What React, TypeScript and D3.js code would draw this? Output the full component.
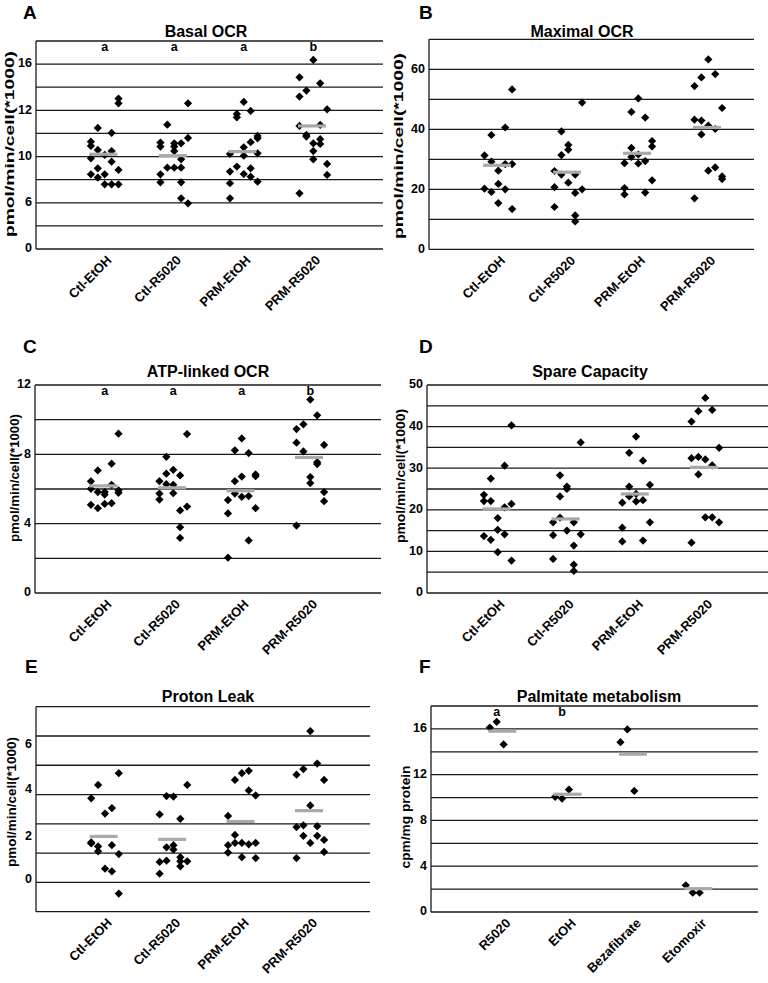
import React from "react";
import * as d3 from "d3";

// groups on the x axis
const ocrGroups = ["Ctl-EtOH", "Ctl-R5020", "PRM-EtOH", "PRM-R5020"];
const palmGroups = ["R5020", "EtOH", "Bezafibrate", "Etomoxir"];

// every point is [value, column] ; column = jitter slot inside the group
const basalPts = [
  [[9.29, -2], [8.92, -2], [7.85, -2], [6.46, -2], [10.48, -1], [8.57, -1], [6.98, -1], [6.18, -1], [8.14, 0], [6.46, 0], [5.6, 0], [10.04, 1], [8.48, 1], [7.56, 1], [5.6, 1], [13.02, 2], [12.61, 2], [6.84, 2], [5.6, 2]],
  [[9.21, -2], [8.86, -2], [6.46, -2], [5.77, -2], [10.76, -1], [7.04, -1], [9.15, 0], [8.86, 0], [8.48, 0], [7.04, 0], [9.15, 1], [7.76, 1], [7.04, 1], [5.77, 1], [4.39, 1], [12.61, 2], [9.61, 2], [3.95, 2]],
  [[8.23, -2], [6.7, -2], [5.69, -2], [4.39, -2], [11.69, -1], [11.4, -1], [7.13, -1], [12.73, 0], [8.8, 0], [8.08, 0], [6.49, 0], [11.95, 1], [9.24, 1], [6.98, 1], [6.26, 1], [9.78, 2], [9.58, 2], [8.28, 2], [5.83, 2]],
  [[14.86, -2], [13.19, -2], [10.65, -2], [4.82, -2], [13.71, -1], [9.87, -1], [9.73, -1], [16.36, 0], [9.15, 0], [8.48, 0], [7.76, 0], [14.34, 1], [10.74, 1], [9.5, 1], [9.09, 1], [12.09, 2], [7.36, 2], [6.41, 2]],
];
const basalMeans = [8.2, 8.08, 8.43, 10.65];
const basalTicks = [0, 4, 8, 12, 16];
const basalTickLabels = ["0", "6", "10", "12", "16"];
const basalSig = ["a", "a", "a", "b"];

const maxPts = [
  [[31.3, -2], [20.2, -2], [38.1, -1], [29.2, -1], [19.1, -1], [26.2, 0], [21.8, 0], [15.4, 0], [40.6, 1], [28.4, 1], [20, 1], [53.3, 2], [28.4, 2], [13.4, 2]],
  [[26.1, -2], [20.7, -2], [14.1, -2], [39.3, -1], [31.4, -1], [24.9, -1], [34.8, 0], [33.2, 0], [22.2, 0], [24.9, 1], [18.8, 1], [11.3, 1], [9.3, 1], [48.9, 2], [20, 2]],
  [[28.7, -2], [20.4, -2], [18.3, -2], [45.8, -1], [33.8, -1], [30.8, -1], [50.3, 0], [31.6, 0], [28.6, 0], [43.9, 1], [29.4, 1], [18.9, 1], [36.1, 2], [34.3, 2], [23, 2]],
  [[54.4, -2], [43.2, -2], [17, -2], [57.3, -1], [42.9, -1], [38.3, -1], [63.3, 0], [41.2, 0], [26.2, 0], [58.4, 1], [40.1, 1], [27.3, 1], [47.1, 2], [24.3, 2], [23.4, 2]],
];
const maxMeans = [28.0, 25.7, 32.0, 40.6];
const maxTicks = [0, 20, 40, 60];
const maxTickLabels = ["0", "20", "40", "60"];

const atpPts = [
  [[6.44, -2], [6.01, -2], [5.09, -2], [7.07, -1], [5.82, -1], [4.89, -1], [5.82, 0], [5.68, 0], [5.14, 0], [7.46, 1], [6.24, 1], [5.18, 1], [9.19, 2], [5.92, 2], [5.78, 2]],
  [[6.45, -2], [5.74, -2], [5.39, -2], [7.86, -1], [6.88, -1], [6.28, -1], [7.11, 0], [6.24, 0], [5.76, 0], [6.78, 1], [4.76, 1], [3.8, 1], [3.18, 1], [9.17, 2], [4.99, 2]],
  [[5.36, -2], [4.59, -2], [2.04, -2], [8.23, -1], [6.45, -1], [5.74, -1], [8.92, 0], [6.72, 0], [5.55, 0], [8.07, 1], [5.59, 1], [3.03, 1], [6.84, 2], [6.74, 2], [4.89, 2]],
  [[9.46, -2], [8.67, -2], [3.89, -2], [9.73, -1], [8.17, -1], [11.16, 0], [6.69, 0], [6.34, 0], [10.25, 1], [7.55, 1], [7.44, 1], [8.54, 2], [5.82, 2], [5.3, 2]],
];
const atpMeans = [6.18, 6.07, 5.9, 7.82];
const atpTicks = [0, 4, 8, 12];
const atpTickLabels = ["0", "4", "8", "12"];
const atpSig = ["a", "a", "a", "b"];

const sparePts = [
  [[23.6, -2], [22.1, -2], [13.7, -2], [27.5, -1], [22.1, -1], [12.8, -1], [18, 0], [15.2, 0], [9.8, 0], [30.6, 1], [20.6, 1], [14.1, 1], [40.3, 2], [21.4, 2], [7.8, 2]],
  [[17, -2], [13.9, -2], [8.2, -2], [28.3, -1], [23.2, -1], [18.1, -1], [25.6, 0], [25, 0], [15, 0], [17, 1], [11.4, 1], [6.8, 1], [5.3, 1], [36.2, 2], [14.1, 2]],
  [[21.7, -2], [15.7, -2], [12.4, -2], [33.7, -1], [25.6, -1], [23.2, -1], [37.6, 0], [23.8, 0], [22, 0], [31.8, 1], [22.3, 1], [12.6, 1], [26, 2], [17, 2]],
  [[41.2, -2], [32.4, -2], [12.1, -2], [43.7, -1], [32.7, -1], [28.5, -1], [46.9, 0], [32.1, 0], [18.2, 0], [44, 1], [30.7, 1], [18.2, 1], [34.9, 2], [17, 2]],
];
const spareMeans = [20.2, 17.8, 23.8, 30.2];
const spareTicks = [0, 10, 20, 30, 40, 50];
const spareTickLabels = ["0", "10", "20", "30", "40", "50"];

const leakPts = [
  [[2.87, -2], [1.37, -2], [1.33, -2], [3.33, -1], [1.23, -1], [1.06, -1], [2.35, 0], [0.47, 0], [2.54, 1], [1.27, 1], [0.38, 1], [3.73, 2], [0.97, 2], [-0.38, 2]],
  [[2.32, -2], [0.7, -2], [0.3, -2], [2.95, -1], [1.2, -1], [0.74, -1], [2.93, 0], [1.27, 0], [1.12, 0], [2.17, 1], [0.86, 1], [0.72, 1], [0.55, 1], [3.33, 2], [0.72, 2]],
  [[2.27, -2], [1.27, -2], [1.02, -2], [3.5, -1], [1.62, -1], [1.35, -1], [3.73, 0], [1.35, 0], [0.86, 0], [3.81, 1], [3.14, 1], [1.3, 1], [2.97, 2], [1.35, 2], [0.83, 2]],
  [[3.68, -2], [1.89, -2], [0.83, -2], [3.87, -1], [1.95, -1], [1.59, -1], [5.17, 0], [2.63, 0], [1.35, 0], [4.06, 1], [1.92, 1], [1.59, 1], [3.5, 2], [1.45, 2], [1.04, 2]],
];
const leakMeans = [1.57, 1.47, 2.08, 2.45];
// the labels of this panel do not sit on the grid lines
const leakTicks = [0.08, 1.56, 3.18, 4.69];
const leakTickLabels = ["0", "2", "4", "6"];

const palmPts = [
  [[16.12, -1], [16.62, 0], [14.64, 1]],
  [[10.06, -1], [9.91, 0], [10.7, 1]],
  [[14.84, -1], [15.95, 0], [10.58, 1]],
  [[2.33, -1], [1.69, 0], [1.69, 1]],
];
const palmMeans = [15.8, 10.29, 13.79, 2.04];
const palmTicks = [0, 4, 8, 12, 16];
const palmTickLabels = ["0", "4", "8", "12", "16"];
const palmSig = ["a", "b", "", ""];

const FONT = "'Liberation Sans', Arial, Helvetica, sans-serif";

const panels = [
  { letter: "A", lx: 23, ly: 19, title: "Basal OCR", tx: 206, ty: 37, ylabel: "pmol/min/cell(*1000)", ylx: 14, yly: 144, ylLen: 186,
    left: 36, right: 383, top: 41, bottom: 249, domain: [0, 18], step: 2, xr: [104.7, 313.3], barFrom: -2,
    groups: ocrGroups, pts: basalPts, means: basalMeans, ticks: basalTicks, tickLabels: basalTickLabels, sig: basalSig },
  { letter: "B", lx: 419, ly: 19, title: "Maximal OCR", tx: 582, ty: 37, ylabel: "pmol/min/cell(*1000)", ylx: 403, yly: 146, ylLen: 186,
    left: 429, right: 754, top: 39.3, bottom: 249.3, domain: [0, 70], step: 10, xr: [498.3, 708.3], barFrom: -2,
    groups: ocrGroups, pts: maxPts, means: maxMeans, ticks: maxTicks, tickLabels: maxTickLabels, sig: null },
  { letter: "C", lx: 23, ly: 353, title: "ATP-linked OCR", tx: 208, ty: 377, ylabel: "pmol/min/cell(*1000)", ylx: 19, yly: 478, ylLen: 128,
    left: 35, right: 381, top: 385, bottom: 593, domain: [0, 12], step: 2, xr: [104.7, 310.3], barFrom: -2,
    groups: ocrGroups, pts: atpPts, means: atpMeans, ticks: atpTicks, tickLabels: atpTickLabels, sig: atpSig },
  { letter: "D", lx: 419, ly: 353, title: "Spare Capacity", tx: 590, ty: 377, ylabel: "pmol/min/cell(*1000)", ylx: 405, yly: 476, ylLen: 134,
    left: 427, right: 768, top: 385, bottom: 593, domain: [0, 50], step: 5, xr: [497.7, 705.3], barFrom: -2,
    groups: ocrGroups, pts: sparePts, means: spareMeans, ticks: spareTicks, tickLabels: spareTickLabels, sig: null },
  { letter: "E", lx: 25, ly: 673, title: "Proton Leak", tx: 208, ty: 702, ylabel: "pmol/min/cell(*1000)", ylx: 16, yly: 802, ylLen: 130,
    left: 36, right: 370, top: 706.7, bottom: 911.7, domain: [-1, 6], step: 1, xr: [105, 310.3], barFrom: -2,
    groups: ocrGroups, pts: leakPts, means: leakMeans, ticks: leakTicks, tickLabels: leakTickLabels, sig: null },
  { letter: "F", lx: 419, ly: 673, title: "Palmitate metabolism", tx: 599, ty: 702, ylabel: "cpm/mg protein", ylx: 410, yly: 817, ylLen: 103,
    left: 431, right: 758, top: 706, bottom: 912, domain: [0, 18], step: 2, xr: [496.7, 692.7], barFrom: -1,
    groups: palmGroups, pts: palmPts, means: palmMeans, ticks: palmTicks, tickLabels: palmTickLabels, sig: palmSig },
];

function Panel({ p }: { p: any }) {
  const y = d3.scaleLinear().domain(p.domain).range([p.bottom, p.top]);
  const x = d3.scalePoint().domain(p.groups).range(p.xr);
  const col = d3.scaleLinear().domain([0, 1]).range([0, 6.9]);
  const grid = d3.range(p.domain[0], p.domain[1] + 1e-6, p.step);
  const diamond = d3.symbol(d3.symbolSquare, 34)();
  const cx = (g: string) => x(g) as number;

  return (
    <g fontFamily={FONT} fontWeight="bold">
      <text x={p.lx} y={p.ly} fontSize={19}>{p.letter}</text>
      <text x={p.tx} y={p.ty} fontSize={16} textAnchor="middle">{p.title}</text>
      <text
        transform={`translate(${p.ylx},${p.yly}) rotate(-90)`}
        fontSize={13}
        textAnchor="middle"
        textLength={p.ylLen}
        lengthAdjust="spacingAndGlyphs"
      >{p.ylabel}</text>

      {grid.map((v: number) => (
        <line key={v} x1={p.left} x2={p.right} y1={y(v)} y2={y(v)} stroke="#1a1a1a" strokeWidth={1.3} />
      ))}
      <line x1={p.left} x2={p.left} y1={p.top} y2={p.bottom} stroke="#1a1a1a" strokeWidth={1.3} />

      {p.ticks.map((v: number, i: number) => (
        <text key={i} x={p.left - 4} y={y(v) - 1} dy="0.35em" fontSize={12.5} textAnchor="end">{p.tickLabels[i]}</text>
      ))}

      {p.groups.map((g: string, gi: number) => {
        const bx = cx(g) + col(p.barFrom) - 1.5;
        return (
          <g key={g}>
            {p.pts[gi].map((d: number[], k: number) => (
              <path key={k} d={diamond as string} transform={`translate(${cx(g) + col(d[1])},${y(d[0])}) rotate(45)`} fill="#000" />
            ))}
            <rect x={bx} y={y(p.means[gi]) - 1.6} width={28} height={3.2} fill="#a9a9a9" />
            {p.sig && p.sig[gi] ? (
              <text x={cx(g)} y={p.top + 10} fontSize={12.5} textAnchor="middle">{p.sig[gi]}</text>
            ) : null}
            <text
              transform={`translate(${bx + 14 + 9},${p.bottom + 12}) rotate(-45)`}
              fontSize={13}
              textAnchor="end"
            >{g}</text>
          </g>
        );
      })}
    </g>
  );
}

export default function App() {
  return (
    <svg width={768} height={983} style={{ position: "absolute", left: 0, top: 0, background: "#fff" }}>
      <rect width={768} height={983} fill="#fff" />
      {panels.map((p) => <Panel key={p.letter} p={p} />)}
    </svg>
  );
}
